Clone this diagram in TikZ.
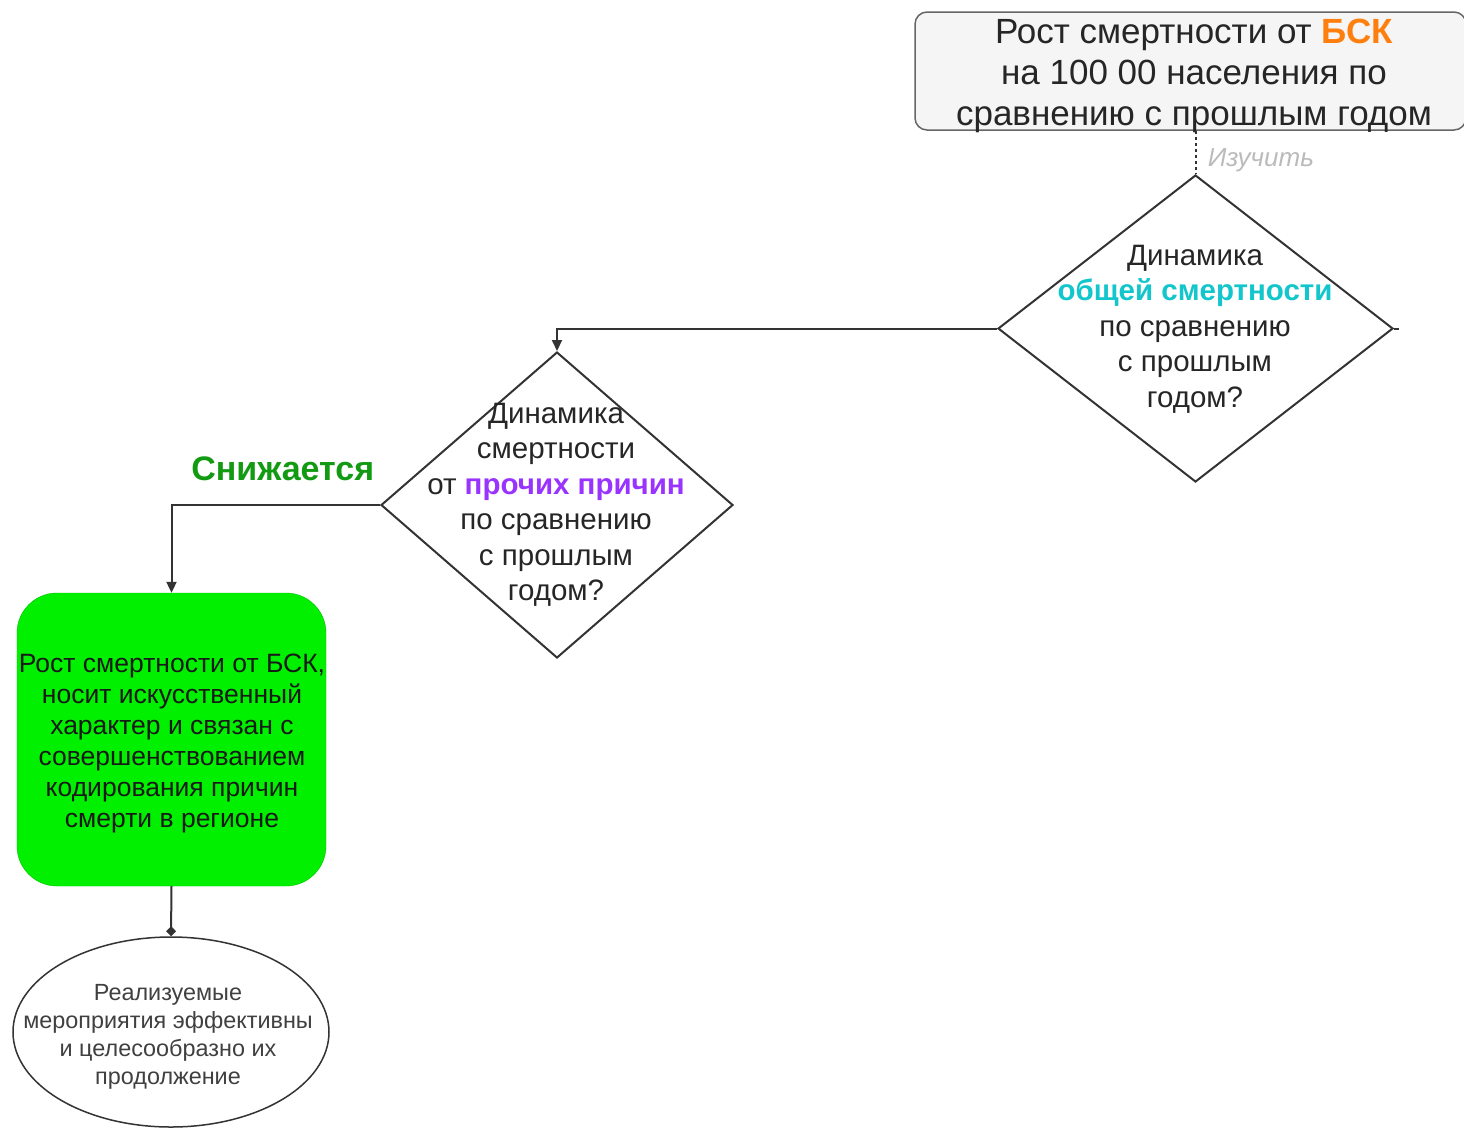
\documentclass[tikz,border=0pt]{standalone}
\usepackage{fontspec}
\setmainfont{Liberation Sans}
\usetikzlibrary{shapes.geometric,arrows.meta}
\definecolor{lineclr}{HTML}{333333}
\definecolor{boxfill}{HTML}{F5F5F5}
\definecolor{boxdraw}{HTML}{666666}
\definecolor{bskorange}{HTML}{FF7F0E}
\definecolor{totalcyan}{HTML}{12C6CC}
\definecolor{otherviolet}{HTML}{9933FF}
\definecolor{dropgreen}{HTML}{139A13}
\definecolor{brightgreen}{HTML}{00F000}
\definecolor{hintgray}{HTML}{BBBBBB}
\tikzset{
  conn/.style={draw=lineclr, line width=2pt, -{Triangle[length=11pt,width=10pt]}},
  decision/.style={shape=diamond, draw=lineclr, line width=2pt, fill=white,
    inner sep=0pt, minimum width=395pt, minimum height=307pt},
  qtext/.style={align=center, font=\fontsize{29.5}{35.5}\selectfont, text=black!85},
}
\begin{document}
\begin{tikzpicture}[x=1pt,y=-1pt]
\useasboundingbox (0,0) rectangle (1464,1128);

% source box
\node[draw=boxdraw, fill=boxfill, rounded corners=12pt, line width=1.5pt,
  minimum width=551pt, minimum height=118pt, inner sep=0pt] (src) at (1190.5,71) {};
\node[align=center, font=\fontsize{35}{41}\selectfont, text=black!85] (srctxt) at (1194,76)
  {Рост смертности от \textcolor{bskorange}{\textbf{БСК}}\\на 100 00 населения по\\сравнению с прошлым годом};

% first question
\node[decision] (q1) at (1195.5,328.5) {};
\node[qtext] (q1txt) at (1195,329)
  {Динамика\\\textcolor{totalcyan}{\textbf{общей смертности}}\\по сравнению\\с прошлым\\годом?};
\draw[lineclr, line width=2pt] (q1.east) -- ++(5,0);

\draw[lineclr, line width=2pt, dash pattern=on 3pt off 3pt] (src.south -| q1.north) -- (q1.north)
  node[pos=0.6, right=8pt, yshift=-4pt, font=\fontsize{26}{28}\selectfont\itshape, text=hintgray] (study) {Изучить};

% second question
\node[decision, minimum width=352pt, minimum height=306pt] (q2) at (557,505) {};
\node[qtext] (q2txt) at (556,505)
  {Динамика\\смертности\\от \textcolor{otherviolet}{\textbf{прочих причин}}\\по сравнению\\с прошлым\\годом?};

\draw[conn] (q1.west) -| (q2.north);

% outcome box
\node[fill=brightgreen, draw=brightgreen!80!black, rounded corners=40pt,
  minimum width=309pt, minimum height=293pt, inner sep=0pt] (result) at (171.5,739.5) {};
\node[align=center, font=\fontsize{26.5}{31}\selectfont, text=black!90] (restxt) at (172,743)
  {Рост смертности от БСК,\\носит искусственный\\характер и связан с\\совершенствованием\\кодирования причин\\смерти в регионе};

\draw[conn] (q2.west) -| (result.north)
  node[pos=0.25, above=20pt, xshift=7pt, font=\fontsize{34}{36}\selectfont\bfseries, text=dropgreen] (drop) {Снижается};

% conclusion ellipse
\node[ellipse, draw=lineclr, line width=1.5pt, fill=white, inner sep=0pt,
  minimum width=316pt, minimum height=190pt] (final) at (171,1032) {};
\node[align=center, font=\fontsize{23.4}{28}\selectfont, text=black!75] (fintxt) at (168,1037)
  {Реализуемые\\мероприятия эффективны\\и целесообразно их\\продолжение};

\draw[draw=lineclr, line width=2pt, -{Turned Square[length=10pt,width=10pt]}] (result.south) -- (final.north);
\end{tikzpicture}
\end{document}
